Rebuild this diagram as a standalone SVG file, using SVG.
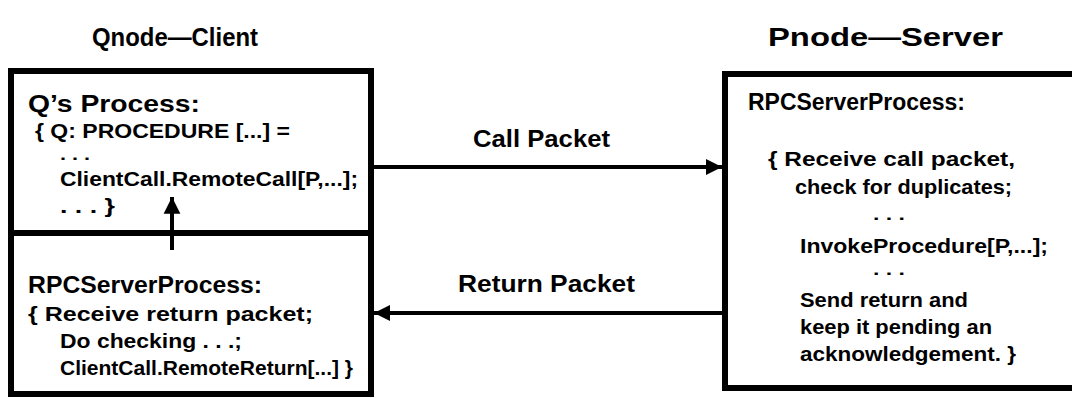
<svg xmlns="http://www.w3.org/2000/svg" width="1072" height="398" viewBox="0 0 1072 398">
<style>
.t{font-family:"Liberation Sans",Arial,sans-serif;font-weight:bold;fill:#000}
.h{font-size:23px}
.ti{font-size:25px}
.b{font-size:21px}
.d{font-size:16px}
.box{fill:none;stroke:#000;stroke-width:6}
.ln{stroke:#000;stroke-width:4;fill:none}
</style>
<defs>
<marker id="ah" viewBox="0 0 10 10" refX="10" refY="5" markerWidth="4" markerHeight="4.5" orient="auto" markerUnits="strokeWidth">
<path d="M0,0 L10,5 L0,10 z" fill="#000"/>
</marker>
<marker id="ahv" viewBox="0 0 10 10" refX="10" refY="5" markerWidth="4.2" markerHeight="5" orient="auto" markerUnits="strokeWidth">
<path d="M0,0 L10,5 L0,10 z" fill="#000"/>
</marker>
</defs>
<rect width="1072" height="398" fill="#fff"/>
<text class="t ti" x="92" y="46" textLength="166" lengthAdjust="spacingAndGlyphs">Qnode—Client</text>
<text class="t ti" x="768" y="46" textLength="235" lengthAdjust="spacingAndGlyphs">Pnode—Server</text>
<g id="client-process">
<rect class="box" x="11" y="71" width="360" height="162"/>
<text class="t h" x="28" y="112" textLength="172" lengthAdjust="spacingAndGlyphs">Q’s Process:</text>
<text class="t b" x="35" y="138" textLength="255" lengthAdjust="spacingAndGlyphs">{ Q: PROCEDURE [...] =</text>
<text class="t b d" x="60" y="160" textLength="30" lengthAdjust="spacingAndGlyphs">. . .</text>
<text class="t b" x="60" y="186" textLength="298" lengthAdjust="spacingAndGlyphs">ClientCall.RemoteCall[P,...];</text>
<text class="t b" x="60" y="213" textLength="55" lengthAdjust="spacingAndGlyphs">. . . }</text>
</g>
<g id="client-server">
<rect class="box" x="11" y="233" width="360" height="161"/>
<text class="t h" x="28" y="293" textLength="234" lengthAdjust="spacingAndGlyphs">RPCServerProcess:</text>
<text class="t b" x="28" y="321" textLength="285" lengthAdjust="spacingAndGlyphs">{ Receive return packet;</text>
<text class="t b" x="60" y="348" textLength="182" lengthAdjust="spacingAndGlyphs">Do checking . . .;</text>
<text class="t b" x="60" y="375" textLength="293" lengthAdjust="spacingAndGlyphs">ClientCall.RemoteReturn[...] }</text>
</g>
<g id="server">
<rect class="box" x="725" y="74" width="360" height="314"/>
<text class="t h" x="748" y="110" textLength="217" lengthAdjust="spacingAndGlyphs">RPCServerProcess:</text>
<text class="t b" x="768" y="166" textLength="247" lengthAdjust="spacingAndGlyphs">{ Receive call packet,</text>
<text class="t b" x="795" y="194" textLength="217" lengthAdjust="spacingAndGlyphs">check for duplicates;</text>
<text class="t b d" x="873" y="220" textLength="32" lengthAdjust="spacingAndGlyphs">. . .</text>
<text class="t b" x="800" y="253" textLength="248" lengthAdjust="spacingAndGlyphs">InvokeProcedure[P,...];</text>
<text class="t b d" x="873" y="275" textLength="32" lengthAdjust="spacingAndGlyphs">. . .</text>
<text class="t b" x="800" y="307" textLength="168" lengthAdjust="spacingAndGlyphs">Send return and</text>
<text class="t b" x="800" y="334" textLength="192" lengthAdjust="spacingAndGlyphs">keep it pending an</text>
<text class="t b" x="800" y="361" textLength="216" lengthAdjust="spacingAndGlyphs">acknowledgement. }</text>
</g>
<g id="connectors">
<line class="ln" x1="374" y1="167" x2="722" y2="167" marker-end="url(#ah)"/>
<line class="ln" x1="722" y1="313" x2="374" y2="313" marker-end="url(#ah)"/>
<line class="ln" x1="172" y1="250" x2="172" y2="197" marker-end="url(#ahv)"/>
<text class="t h" x="473" y="147" textLength="137" lengthAdjust="spacingAndGlyphs">Call Packet</text>
<text class="t h" x="458" y="292" textLength="177" lengthAdjust="spacingAndGlyphs">Return Packet</text>
</g>
</svg>
